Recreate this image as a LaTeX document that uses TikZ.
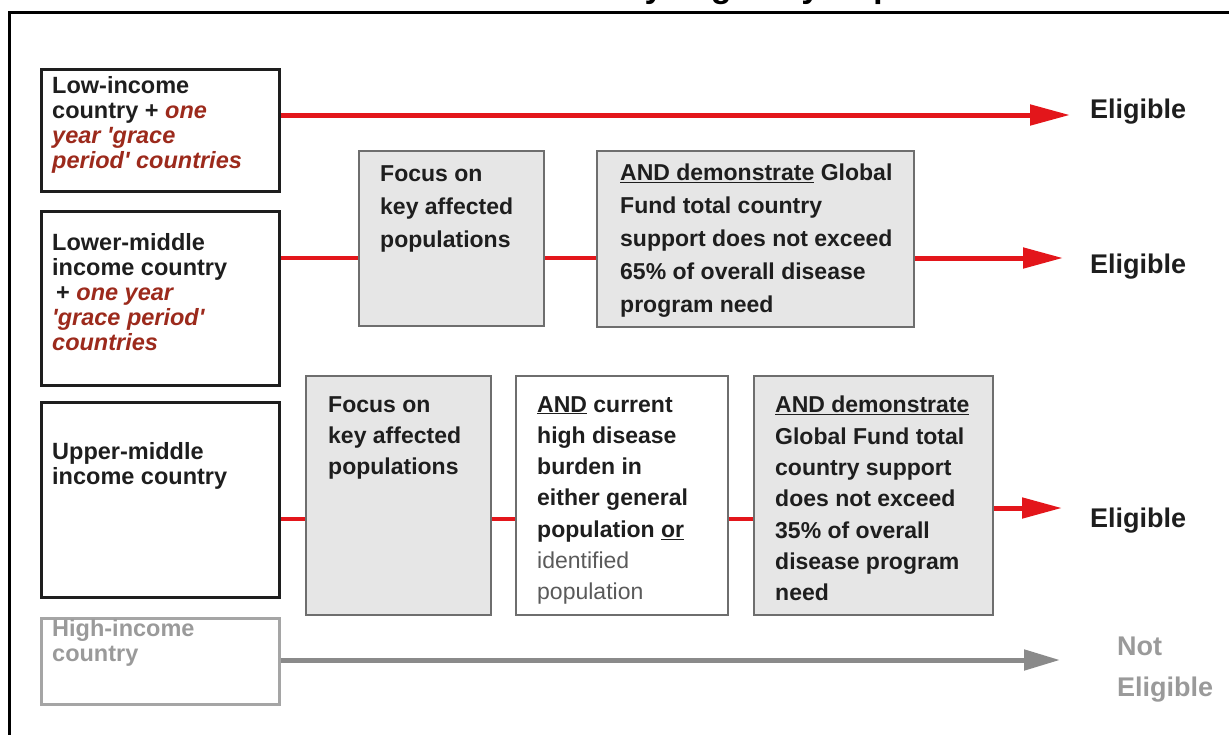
\documentclass[tikz,border=0pt]{standalone}
\usepackage{fontspec}
\setmainfont{Liberation Sans}
\usetikzlibrary{arrows.meta}
\definecolor{redA}{HTML}{E3161B}
\definecolor{redT}{HTML}{9C2A1C}
\definecolor{txt}{HTML}{1E1E1E}
\definecolor{boxfill}{HTML}{E6E6E6}
\definecolor{boxline}{HTML}{6E6E6E}
\definecolor{hiline}{HTML}{A5A5A5}
\definecolor{hitext}{HTML}{9A9A9A}
\definecolor{grayarrow}{HTML}{8A8A8A}
\definecolor{softtext}{HTML}{5A5A5A}
\newcommand{\rit}[1]{{\color{redT}\itshape #1}}
\newcommand{\sq}{\textquotesingle}
\begin{document}
\begin{tikzpicture}[x=1pt,y=-1pt,
  lbox/.style={draw=txt, line width=3pt, anchor=north west, inner sep=0pt, minimum width=238pt},
  hbox/.style={draw=hiline, line width=2.5pt, anchor=north west, inner sep=0pt, minimum width=238pt},
  gbox/.style={draw=boxline, fill=boxfill, line width=1.5pt, anchor=north west, inner sep=0pt},
  wbox/.style={draw=boxline, fill=white, line width=1.5pt, anchor=north west, inner sep=0pt},
  ltext/.style={anchor=north west, inner sep=0pt, align=left, text=txt,
     font=\bfseries\fontsize{23.5}{25}\selectfont},
  mtext/.style={anchor=north west, inner sep=0pt, align=left, text=txt,
     font=\bfseries\fontsize{23}{33}\selectfont},
  rtext/.style={anchor=north west, inner sep=0pt, align=left, text=txt,
     font=\bfseries\fontsize{23}{31.3}\selectfont},
  elig/.style={anchor=base west, inner sep=0pt, text=txt, font=\bfseries\fontsize{27}{32}\selectfont},
  redline/.style={draw=redA, line width=4.5pt},
  redarrow/.style={draw=redA, line width=5pt, -{Triangle[length=40pt,width=20pt]}},
  grayarr/.style={draw=grayarrow, line width=5pt, -{Triangle[length=36pt,width=20pt]}}
]
\useasboundingbox (0,0) rectangle (1229,734);
% title, cut off by the top edge: only its descenders show
\begin{scope}
  \clip (0,0) rectangle (1229,10.5);
  \node[anchor=base west, inner sep=0pt, text=black, font=\bfseries\fontsize{34}{40}\selectfont] (title) at (533,-3) {Country eligibility requirements};
\end{scope}
% frame
\draw[line width=3pt, black] (9,740) -- (9,12) -- (1235,12);

% left boxes
\node[lbox, minimum height=122pt] (l1) at (40,68) {};
\node[lbox, minimum height=174pt] (l2) at (40,210) {};
\node[lbox, minimum height=195pt] (l3) at (40,401) {};
\node[hbox, minimum height=86pt] (l4) at (40,617) {};

\node[ltext] (tl1) at (52,76) {Low-income\\country + \rit{one}\\\rit{year \sq grace}\\\rit{period\sq\ countries}};
\node[ltext] (tl2) at (52,233) {Lower-middle\\income country\\\hspace*{4pt}+ \rit{one year}\\\rit{\sq grace period\sq}\\\rit{countries}};
\node[ltext] (tl3) at (52,442) {Upper-middle\\income country};
\node[ltext, text=hitext] (tl4) at (52,619) {High-income\\country};

% row 2 boxes
\node[gbox, minimum width=185pt, minimum height=175pt] (m1) at (358,150) {};
\node[gbox, minimum width=317pt, minimum height=176pt] (m2) at (596,150) {};
\node[mtext] (tm1) at (380,165) {Focus on\\key affected\\populations};
\begin{scope}
  \clip (596,150) rectangle (913,323);
  \node[mtext] (tm2) at (620,164) {\underline{AND demonstrate} Global\\Fund total country\\support does not exceed\\65\% of overall disease\\program need};
\end{scope}

% row 3 boxes
\node[gbox, minimum width=185pt, minimum height=239pt] (r1) at (305,375) {};
\node[wbox, minimum width=212pt, minimum height=239pt] (r2) at (515,375) {};
\node[gbox, minimum width=239pt, minimum height=239pt] (r3) at (753,375) {};
\node[rtext] (tr1) at (328,396) {Focus on\\key affected\\populations};
\begin{scope}
  \clip (515,375) rectangle (727,611);
  \node[rtext] (tr2) at (537,396) {\underline{AND} current\\high disease\\burden in\\either general\\population \underline{or}\\{\color{softtext}\mdseries identified}\\{\color{softtext}\mdseries population}};
\end{scope}
\node[rtext] (tr3) at (775,396) {\underline{AND demonstrate}\\Global Fund total\\country support\\does not exceed\\35\% of overall\\disease program\\need};

% outcome labels
\node[elig] (e1) at (1090,118) {Eligible};
\node[elig] (e2) at (1090,273) {Eligible};
\node[elig] (e3) at (1090,527) {Eligible};
\node[anchor=north west, inner sep=0pt, align=left, text=hitext, font=\bfseries\fontsize{27}{41}\selectfont] (ne) at (1117,637) {Not\\Eligible};

% arrow end points and row levels
\coordinate (t1) at (1070,115);
\coordinate (t2) at (1063,258);
\coordinate (t3) at (1062,508);
\coordinate (t4) at (1060,660);
\coordinate (y3) at (0,519);

% connectors
\draw[redarrow] (l1.east |- t1) -- (t1);
\draw[redline] (l2.east |- t2) -- (m1.west |- t2);
\draw[redline] (m1.east |- t2) -- (m2.west |- t2);
\draw[redarrow] (m2.east |- t2) -- (t2);
\draw[redline] (l3.east |- y3) -- (r1.west |- y3);
\draw[redline] (r1.east |- y3) -- (r2.west |- y3);
\draw[redline] (r2.east |- y3) -- (r3.west |- y3);
\draw[redarrow] (r3.east |- t3) -- (t3);
\draw[grayarr] (l4.east |- t4) -- (t4);
\end{tikzpicture}
\end{document}
